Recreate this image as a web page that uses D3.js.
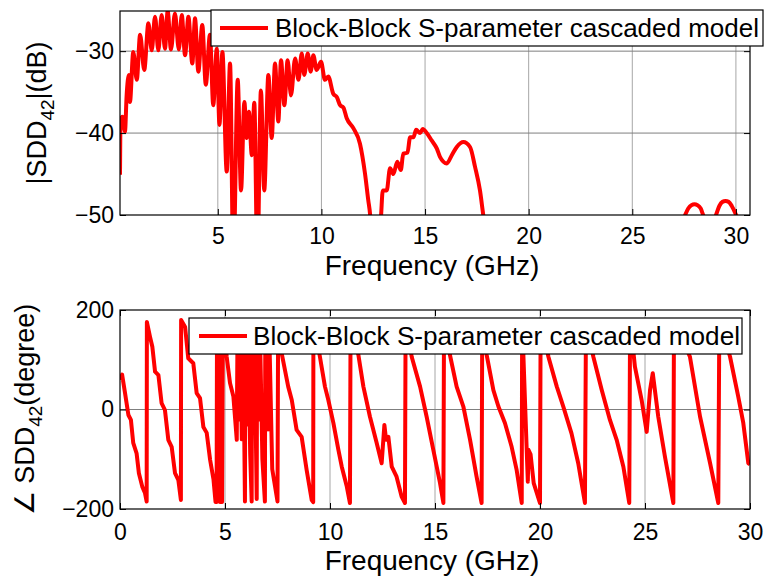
<!DOCTYPE html>
<html><head><meta charset="utf-8">
<script src="https://cdn.jsdelivr.net/npm/d3@7"></script>
<style>
body{margin:0;background:#fff}
text{font-family:"Liberation Sans",Arial,Helvetica,sans-serif;fill:#000}
</style>
</head><body>
<svg id="c" width="768" height="580"></svg>
<script>
// ---------- Data ----------
const legendLabel = "Block-Block S-parameter cascaded model";

// Magnitude |SDD42| (dB) vs frequency (GHz)
const magFreq = [0.28,0.30,0.40,0.52,0.60,0.71,0.76,0.92,1.09,1.25,1.45,1.65,1.81,1.97,2.13,2.29,2.45,2.58,2.74,2.93,3.12,3.26,3.42,3.58,3.77,3.90,4.06,4.25,4.42,4.62,4.78,4.95,5.08,5.22,5.43,5.59,5.75,5.96,6.12,6.28,6.40,6.50,6.64,6.76,6.91,7.08,7.24,7.44,7.60,7.76,7.92,8.05,8.21,8.37,8.53,8.73,8.89,9.05,9.17,9.34,9.48,9.61,9.77,9.98,10.17,10.33,10.57,10.74,10.90,11.06,11.22,11.54,11.86,12.10,12.26,12.35,12.50,12.70,12.88,12.96,13.15,13.31,13.47,13.66,13.83,13.95,14.15,14.28,14.44,14.57,14.76,14.89,15.08,15.32,15.57,15.72,16.05,16.29,16.53,16.85,17.17,17.41,17.65,17.81,18.00,20.00,24.00,27.00,27.55,27.70,27.85,28.00,28.15,28.30,28.42,28.70,29.04,29.20,29.35,29.50,29.65,29.80,30.01,30.30,30.68];
const magDb = [-45.1,-38.4,-38.0,-39.8,-35.4,-32.9,-36.2,-30.1,-33.5,-28.0,-32.3,-26.6,-29.9,-25.8,-29.9,-25.6,-29.7,-25.1,-29.8,-25.4,-29.8,-25.6,-30.5,-25.8,-31.5,-26.0,-32.5,-26.8,-34.1,-28.0,-36.6,-29.7,-39.0,-30.1,-44.7,-31.5,-56,-33.5,-47,-36.2,-40.6,-37.4,-42.7,-36.3,-56,-34.8,-47,-32.9,-40.6,-31.5,-38.6,-31.1,-36.6,-31.1,-35.4,-30.9,-33.5,-30.3,-32.9,-30.3,-32.5,-30.5,-32.3,-31.3,-33.5,-33.1,-35.2,-35.6,-36.6,-36.9,-38.2,-39.4,-41.3,-44.9,-48.2,-50,-58,-58,-50,-47,-47,-44.3,-45,-43.5,-44.5,-42.5,-42.4,-40.5,-40.5,-39.6,-40.0,-39.5,-40.0,-40.9,-41.9,-42.9,-43.7,-42.7,-41.7,-41.1,-41.7,-44.1,-47,-50,-53,-58,-58,-53,-50,-49.2,-48.8,-48.7,-48.8,-49.2,-50,-51.5,-50,-48.9,-48.4,-48.3,-48.4,-48.9,-50,-52,-54];

// Phase angle SDD42 (degree) vs frequency (GHz)
const phaseFreq = [0,0.10,0.24,0.40,0.52,0.63,0.79,0.90,1.06,1.19,1.27,1.28,1.43,1.54,1.67,1.83,1.98,2.14,2.30,2.46,2.62,2.78,2.90,2.91,3.10,3.25,3.49,3.65,3.81,3.97,4.13,4.29,4.45,4.55,4.60,4.62,4.70,4.76,4.86,4.90,5.00,5.08,5.24,5.40,5.56,5.60,5.68,5.72,5.80,5.86,5.95,5.97,6.05,6.10,6.20,6.27,6.29,6.36,6.40,6.51,6.53,6.62,6.66,6.78,6.90,6.92,7.05,7.10,7.25,7.50,7.53,7.70,8.01,8.18,8.41,8.65,8.89,9.13,9.20,9.21,9.52,9.76,9.92,10.16,10.40,10.56,10.80,10.95,10.98,11.35,11.59,11.90,12.22,12.46,12.59,12.67,12.78,12.94,13.17,13.41,13.57,13.60,13.89,14.29,14.60,14.92,15.24,15.40,15.43,15.71,16.03,16.35,16.67,16.98,17.22,17.25,17.46,17.78,18.02,18.33,18.65,18.89,19.13,19.15,19.42,19.45,19.55,19.70,20.00,20.03,20.40,20.80,21.11,21.50,21.82,22.14,22.19,22.54,22.94,23.33,23.65,23.97,24.25,24.29,24.52,24.84,25.08,25.24,25.37,25.63,25.95,26.35,26.38,27.14,27.62,28.10,28.49,28.54,29.05,29.44,29.68,29.92,30.00];
const phaseDeg = [60,70,33,-11,-21,-67,-88,-128,-155,-168,-185,176,146,126,76,69,13,-1,-61,-75,-128,-142,-182,180,166,103,93,33,23,-35,-47,-101,-140,-186,-186,180,150,-186,-186,180,150,106,53,26,-61,180,-20,175,-60,170,-185,180,-30,175,-90,-185,180,-40,170,-180,180,-20,170,-100,-185,180,-40,170,-120,-185,180,113,46,19,-41,-55,-122,-182,-186,180,106,46,19,-27,-81,-115,-155,-188,180,110,46,-14,-67,-108,-31,-61,-55,-115,-135,-175,-188,180,106,46,-14,-81,-148,-188,180,110,46,6,-61,-135,-188,180,110,39,6,-27,-75,-122,-188,180,-145,-81,-90,-148,-188,180,106,46,6,-48,-108,-188,180,106,39,-21,-61,-115,-188,180,86,19,-45,39,73,-14,-95,-188,180,106,-14,-108,-188,180,106,26,-27,-108,-110];

// Axis ticks
const magXTicks = [5,10,15,20,25,30];
const magYTicks = [-50,-40,-30];
const phaseXTicks = [0,5,10,15,20,25,30];
const phaseYTicks = [-200,0,200];
const xLabel = "Frequency (GHz)";

// ---------- Drawing ----------
const svg = d3.select("#c");
const RED = "#ff0000";

function panel(o){
  const g = svg.append("g");
  const x = d3.scaleLinear().domain(o.xDomain).range([o.left, o.right]);
  const y = d3.scaleLinear().domain(o.yDomain).range([o.bottom, o.top]);
  const id = "clip" + o.id;
  svg.append("clipPath").attr("id", id).append("rect")
    .attr("x", o.left).attr("y", o.top).attr("width", o.right - o.left).attr("height", o.bottom - o.top);

  // grid
  g.append("g").selectAll("line").data(o.xGrid).join("line")
    .attr("x1", d => x(d)).attr("x2", d => x(d)).attr("y1", o.top).attr("y2", o.bottom)
    .attr("stroke", "#a6a6a6").attr("stroke-width", 1);
  g.append("g").selectAll("line").data(o.yGrid).join("line")
    .attr("y1", d => y(d)).attr("y2", d => y(d)).attr("x1", o.left).attr("x2", o.right)
    .attr("stroke", "#7f7f7f").attr("stroke-width", 1);

  // data line
  const line = d3.line().x(d => x(d[0])).y(d => y(d[1]));
  if (o.smooth) line.curve(d3.curveMonotoneX);
  g.append("path").datum(o.fx.map((f, i) => [f, o.fy[i]]))
    .attr("clip-path", `url(#${id})`)
    .attr("d", line).attr("fill", "none").attr("stroke", RED)
    .attr("stroke-width", 4).attr("stroke-linejoin", "round");

  // axes
  const fs = "23px";
  const bx = g.append("g").attr("transform", `translate(0,${o.bottom})`)
    .call(d3.axisBottom(x).tickValues(o.xTicks).tickSizeInner(-6).tickSizeOuter(0).tickPadding(o.xPad).tickFormat(d3.format("d")));
  const tx = g.append("g").attr("transform", `translate(0,${o.top})`)
    .call(d3.axisTop(x).tickValues(o.xTicks).tickSizeInner(-6).tickSizeOuter(0).tickFormat(""));
  const ly = g.append("g").attr("transform", `translate(${o.left},0)`)
    .call(d3.axisLeft(y).tickValues(o.yTicks).tickSizeInner(-6).tickSizeOuter(0).tickPadding(6).tickFormat(d3.format("d")));
  const ry = g.append("g").attr("transform", `translate(${o.right},0)`)
    .call(d3.axisRight(y).tickValues(o.yTicks).tickSizeInner(-6).tickSizeOuter(0).tickFormat(""));
  [bx, tx, ly, ry].forEach(a => {
    a.select(".domain").remove();
    a.selectAll("line").attr("stroke", "#000");
    a.selectAll("text").attr("font-size", fs).attr("font-family", '"Liberation Sans",Arial,sans-serif').attr("fill", "#000");
  });
  g.append("rect").attr("x", o.left).attr("y", o.top).attr("width", o.right - o.left).attr("height", o.bottom - o.top)
    .attr("fill", "none").attr("stroke", "#000").attr("stroke-width", 1.2);

  // x label
  g.append("text").attr("x", (o.left + o.right) / 2 - 3).attr("y", o.xLabelY)
    .attr("text-anchor", "middle").attr("font-size", "28px").text(xLabel);

  // y label (rotated)
  const yl = g.append("text").attr("transform", `translate(${o.yLabelX},${(o.top + o.bottom) / 2}) rotate(-90)`)
    .attr("text-anchor", "middle").attr("font-size", "27px");
  o.yLabel.forEach(p => {
    const t = yl.append("tspan").text(p.t);
    if (p.sub) t.attr("font-size", "19px").attr("dy", "8");
    if (p.up) t.attr("dy", "-8");
  });

  // legend
  const L = o.legend;
  g.append("rect").attr("x", L.x0).attr("y", L.y0).attr("width", L.x1 - L.x0).attr("height", L.y1 - L.y0)
    .attr("fill", "#fff").attr("stroke", "#000").attr("stroke-width", 1.2);
  const ym = (L.y0 + L.y1) / 2;
  g.append("line").attr("x1", L.lx0).attr("x2", L.lx1).attr("y1", ym).attr("y2", ym)
    .attr("stroke", RED).attr("stroke-width", 4);
  g.append("text").attr("x", L.tx).attr("y", ym + 9).attr("font-size", "26px")
    .attr("textLength", L.tw).attr("lengthAdjust", "spacingAndGlyphs").text(legendLabel);
}

panel({
  id: "mag", left: 120, right: 750, top: 11, bottom: 215, smooth: true,
  xDomain: [0.28, 30.68], yDomain: [-50, -25.1],
  fx: magFreq, fy: magDb,
  xTicks: magXTicks, yTicks: magYTicks,
  xGrid: [5,10,15,20,25,30], yGrid: [-40,-30],
  xPad: 13, xLabelY: 275, yLabelX: 46,
  yLabel: [{t:"|SDD"},{t:"42", sub:true},{t:"|(dB)", up:true}],
  legend: {x0: 211, x1: 763, y0: 10, y1: 46, lx0: 220, lx1: 268, tx: 275, tw: 484}
});

panel({
  id: "ph", left: 120, right: 750, top: 310, bottom: 509, smooth: false,
  xDomain: [0, 30], yDomain: [-200, 200],
  fx: phaseFreq, fy: phaseDeg,
  xTicks: phaseXTicks, yTicks: phaseYTicks,
  xGrid: [5,10,15,20,25], yGrid: [0],
  xPad: 15, xLabelY: 570, yLabelX: 34,
  yLabel: [{t:"\u2220 SDD"},{t:"42", sub:true},{t:"(degree)", up:true}],
  legend: {x0: 189, x1: 742, y0: 318, y1: 354, lx0: 199, lx1: 247, tx: 253, tw: 487}
});
</script>
</body></html>
